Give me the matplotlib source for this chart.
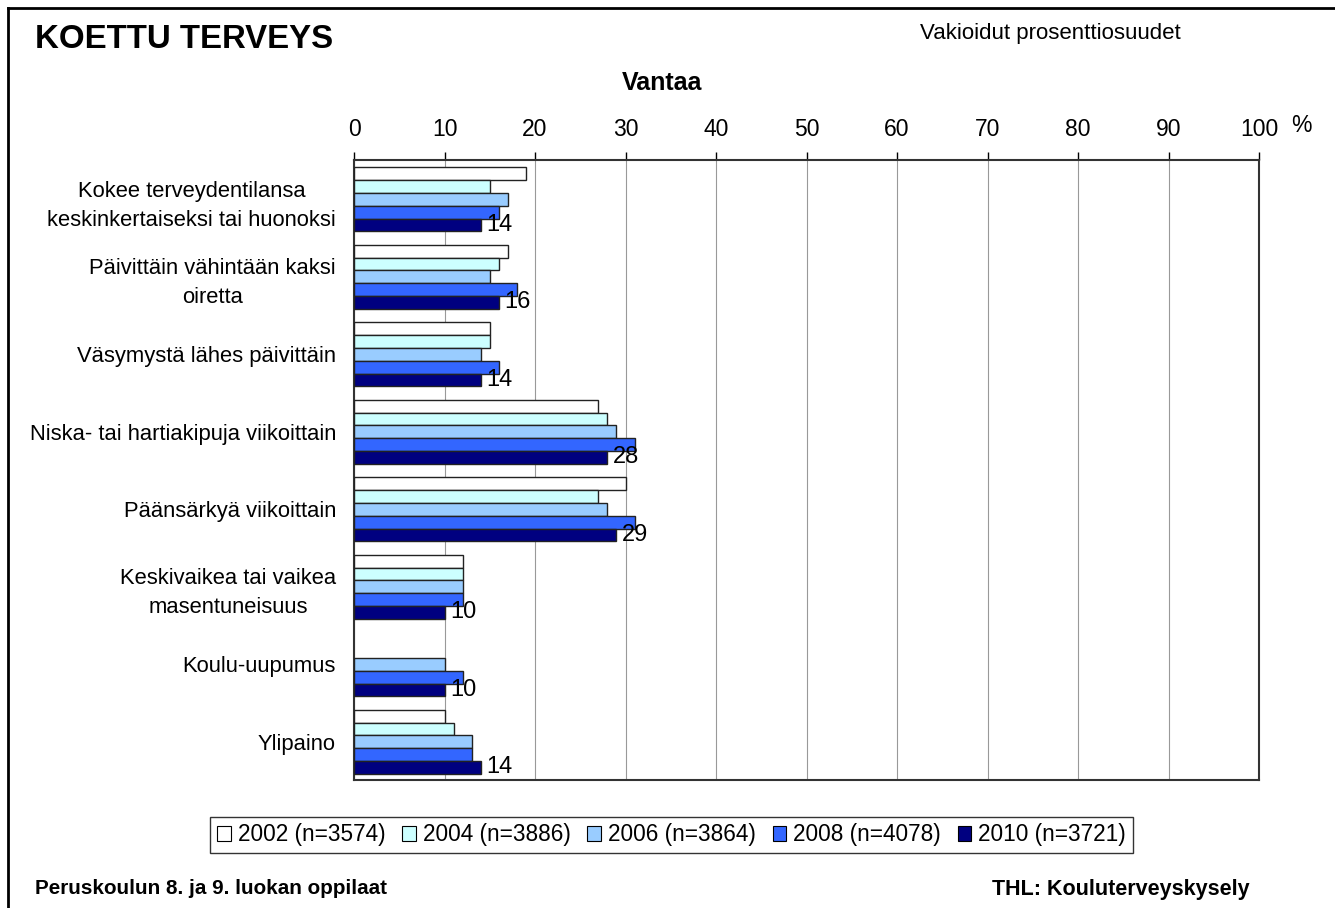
import matplotlib
matplotlib.use('Agg')
import matplotlib.pyplot as plt
import numpy as np
from matplotlib.lines import Line2D
from matplotlib.patches import Patch

plt.rcParams['font.family'] = ['Liberation Sans', 'DejaVu Sans']

categories = ['Kokee terveydentilansa\nkeskinkertaiseksi tai huonoksi',
              'Päivittäin vähintään kaksi\noiretta',
              'Väsymystä lähes päivittäin',
              'Niska- tai hartiakipuja viikoittain',
              'Päänsärkyä viikoittain',
              'Keskivaikea tai vaikea\nmasentuneisuus',
              'Koulu-uupumus',
              'Ylipaino']

series_labels = ['2002 (n=3574)', '2004 (n=3886)', '2006 (n=3864)',
                 '2008 (n=4078)', '2010 (n=3721)']

v2002 = [19, 17, 15, 27, 30, 12, np.nan, 10]
v2004 = [15, 16, 15, 28, 27, 12, np.nan, 11]
v2006 = [17, 15, 14, 29, 28, 12, 10, 13]
v2008 = [16, 18, 16, 31, 31, 12, 12, 13]
v2010 = [14, 16, 14, 28, 29, 10, 10, 14]

colors = ['#FFFFFF', '#CCFFFF', '#99CCFF', '#3366FF', '#000080']
series = [v2002, v2004, v2006, v2008, v2010]

fig = plt.figure(figsize=(13.35, 9.08), dpi=100)
ax = fig.add_axes([354/1335, 1-780/908, (1259-354)/1335, (780-160)/908])

bh = 0.165
start = 0.095
idx = np.arange(len(categories))
for j, (vals, c) in enumerate(zip(series, colors)):
    y = idx + start + bh*(j+0.5)
    ax.barh(y, vals, height=bh, color=c, edgecolor='#222222', linewidth=1.0, zorder=3)
    if j == len(series)-1:
        # only the last year gets value labels
        for yy, v in zip(y, vals):
            ax.text(v + 0.6, yy, f'{v:.0f}', va='center', ha='left', fontsize=17, zorder=4)

ax.set_xlim(0, 100)
ax.set_ylim(len(categories), 0)
ax.set_xticks(np.arange(0, 101, 10))
ax.xaxis.tick_top()
ax.tick_params(axis='x', direction='out', length=6, width=1, labelsize=16.5, pad=8)
ax.xaxis.grid(True, color='#999999', linewidth=0.8, zorder=0)
ax.set_yticks(idx + start + bh*2.5)
ax.set_yticklabels(categories, fontsize=15.8)
ax.tick_params(axis='y', length=0, pad=13)
for lab in ax.get_yticklabels():
    lab.set_multialignment('center')
    lab.set_linespacing(1.5)
for s in ax.spines.values():
    s.set_linewidth(1.5)
    s.set_color('#333333')

fig.text(35/1335, 1-40/908, 'KOETTU TERVEYS', fontsize=23.8, fontweight='bold', va='center', ha='left')
fig.text(1050/1335, 1-33/908, 'Vakioidut prosenttiosuudet', fontsize=16, va='center', ha='center')
fig.text(662/1335, 1-83/908, 'Vantaa', fontsize=18, fontweight='bold', va='center', ha='center')
fig.text(1301/1335, 1-126/908, '%', fontsize=16.5, va='center', ha='center')
fig.text(35/1335, 1-889/908, 'Peruskoulun 8. ja 9. luokan oppilaat', fontsize=14.9, fontweight='bold', va='center', ha='left')
fig.text(1250/1335, 1-889/908, 'THL: Kouluterveyskysely', fontsize=15.5, fontweight='bold', va='center', ha='right')

handles = [Patch(facecolor=c, edgecolor='black', linewidth=0.8) for c in colors]
leg = fig.legend(handles, series_labels, loc='center', bbox_to_anchor=(671.5/1335, 1-835/908),
                 ncol=5, fontsize=16.3, frameon=True, fancybox=False, edgecolor='black',
                 handlelength=0.6, handleheight=0.6, handletextpad=0.3, columnspacing=0.75,
                 borderpad=0.3, borderaxespad=0)
leg.get_frame().set_linewidth(1.0)

fig.add_artist(Line2D([8/1335, 8/1335], [0, 1-8/908], color='black', linewidth=2, transform=fig.transFigure))
fig.add_artist(Line2D([8/1335, 1], [1-8/908, 1-8/908], color='black', linewidth=2, transform=fig.transFigure))

fig.savefig('out.png', dpi=100)
